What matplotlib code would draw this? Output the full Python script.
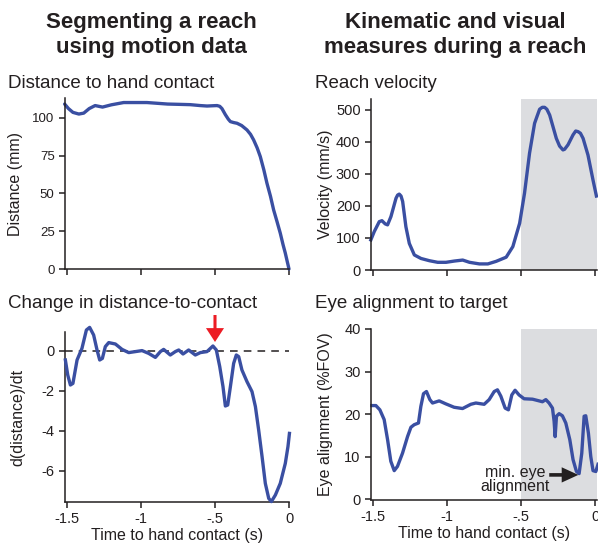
import matplotlib
matplotlib.use("Agg")
import matplotlib.pyplot as plt

plt.rcParams['font.family'] = ['Liberation Sans', 'DejaVu Sans']

# ---------------------------------------------------------
# Data
# ---------------------------------------------------------

# distance to hand contact (mm)
dist_t = [-1.516, -1.49, -1.46, -1.42, -1.387, -1.35, -1.31, -1.26, -1.2, -1.117, -1.04, -0.96,
          -0.89, -0.82, -0.74, -0.667, -0.6, -0.554, -0.51, -0.486, -0.468, -0.453, -0.43,
          -0.41, -0.396, -0.375, -0.351, -0.32, -0.284, -0.26, -0.239, -0.215, -0.194, -0.17,
          -0.149, -0.125, -0.104, -0.08, -0.059, -0.04, -0.025, -0.012, 0.0]
dist_v = [109, 106, 103.5, 102.4, 103, 106, 108, 107, 108.5, 110, 110, 110,
          109.5, 109, 108.8, 108.6, 108, 107.7, 107.9, 108, 107.5, 106, 102,
          99, 97.4, 96.8, 96.3, 94.8, 91.9, 89, 85.3, 80, 74.3, 65.5,
          56.7, 48, 39.1, 31, 23.7, 16, 10.5, 5, 0]

# change in distance-to-contact
deriv_t = [-1.511, -1.495, -1.477, -1.46, -1.432, -1.399, -1.369, -1.347, -1.32, -1.297, -1.279,
           -1.261, -1.241, -1.218, -1.173, -1.128, -1.083, -1.038, -0.993, -0.948, -0.903,
           -0.869, -0.847, -0.802, -0.768, -0.745, -0.716, -0.678, -0.633, -0.599, -0.554,
           -0.514, -0.491, -0.468, -0.446, -0.43, -0.414, -0.396, -0.374, -0.356, -0.34,
           -0.318, -0.284, -0.25, -0.227, -0.205, -0.182, -0.16, -0.137, -0.119, -0.092,
           -0.059, -0.025, -0.007, 0.003]
deriv_v = [-0.45, -1.2, -1.7, -1.62, -0.45, 0.13, 1.05, 1.18, 0.8, 0.05, -0.45,
           -0.37, 0.22, 0.42, 0.35, 0.08, -0.08, -0.03, 0.02, -0.12, -0.32,
           -0.03, 0.08, -0.2, -0.03, 0.05, -0.15, 0.05, -0.2, -0.08, -0.03,
           0.25, 0.05, -0.78, -1.78, -2.75, -2.7, -1.78, -0.62, -0.2, -0.28,
           -0.95, -1.53, -2.03, -2.78, -3.95, -5.28, -6.62, -7.37, -7.53, -7.2,
           -6.62, -5.62, -4.78, -4.12]

# reach velocity (mm/s)
vel_t = [-1.516, -1.493, -1.459, -1.441, -1.419, -1.403, -1.38, -1.346, -1.335, -1.324, -1.312,
         -1.301, -1.279, -1.256, -1.222, -1.177, -1.12, -1.064, -1.008, -0.951, -0.895, -0.849,
         -0.782, -0.725, -0.669, -0.601, -0.556, -0.51, -0.477, -0.443, -0.409, -0.393, -0.375,
         -0.357, -0.341, -0.326, -0.307, -0.262, -0.24, -0.217, -0.206, -0.183, -0.149, -0.131,
         -0.115, -0.099, -0.081, -0.048, -0.014, 0.009]
vel_v = [94, 120, 151, 154, 144, 141, 167, 224, 234, 237, 231,
         214, 135, 83, 47, 36, 29, 24, 24, 28, 31, 24,
         19, 19, 27, 40, 73, 146, 240, 365, 458, 479, 502,
         508, 508, 502, 484, 411, 387, 375, 377, 391, 422, 434,
         432, 427, 411, 359, 281, 231]

# eye alignment to target (%FOV)
eye_t = [-1.509, -1.482, -1.455, -1.426, -1.403, -1.381, -1.358, -1.336, -1.302, -1.268, -1.245,
         -1.223, -1.194, -1.178, -1.16, -1.14, -1.117, -1.099, -1.054, -1.009, -0.953,
         -0.896, -0.84, -0.806, -0.75, -0.716, -0.682, -0.66, -0.637, -0.608, -0.586,
         -0.563, -0.541, -0.514, -0.48, -0.423, -0.378, -0.356, -0.333, -0.311, -0.288,
         -0.277, -0.27, -0.261, -0.243, -0.221, -0.198, -0.171, -0.149, -0.126, -0.108,
         -0.09, -0.074, -0.063, -0.045, -0.029, -0.014, 0.005, 0.02]
eye_v = [22.0, 22.0, 21.0, 18.7, 14.0, 8.9, 6.7, 7.7, 10.8, 14.7, 16.9,
         17.5, 17.9, 21.8, 24.8, 25.3, 23.4, 22.6, 23.1, 22.4, 21.6,
         21.3, 22.3, 22.6, 22.3, 23.4, 25.3, 25.7, 24.2, 21.4, 21.0,
         24.5, 25.6, 24.5, 23.6, 23.5, 23.1, 22.9, 23.4, 22.6, 21.4,
         18.3, 14.7, 19.5, 20.1, 19.6, 17.9, 14.0, 9.3, 6.5, 6.0,
         10.8, 19.5, 19.6, 15.5, 10.0, 6.7, 6.5, 8.2]

time_ticks = [-1.5, -1, -0.5, 0]
time_labels = ['-1.5', '-1', '-.5', '0']

# ---------------------------------------------------------
# Figure
# ---------------------------------------------------------
blue = '#3a4fa2'
shade = '#dcdde0'
ink = '#231f20'
W, H = 598, 544

fig = plt.figure(figsize=(W / 100, H / 100), dpi=100)


def box(l, r, t, b):
    return [l / W, 1 - b / H, (r - l) / W, (b - t) / H]


def style(ax, labels=True, ysize=10.5):
    for s in ['top', 'right']:
        ax.spines[s].set_visible(False)
    for s in ['left', 'bottom']:
        ax.spines[s].set_linewidth(1.1)
        ax.spines[s].set_color(ink)
    ax.tick_params(direction='out', length=4.5, width=1.1, color=ink, labelcolor=ink, pad=3)
    ax.tick_params(axis='y', labelsize=ysize)
    ax.tick_params(axis='x', labelsize=10.5)
    ax.set_xticks(time_ticks)
    if labels:
        ax.set_xticklabels(time_labels)
        ax.set_xlabel('Time to hand contact (s)', fontsize=11.5, color=ink, labelpad=1)
    else:
        ax.set_xticklabels([])


# top-left: distance
ax1 = fig.add_axes(box(65, 289, 98, 269))
ax1.plot(dist_t, dist_v, color=blue, lw=2.4, clip_on=False, solid_capstyle='round')
ax1.set_xlim(-1.5135, 0)
ax1.set_ylim(0, 113)
ax1.set_yticks([0, 25, 50, 75, 100])
style(ax1, labels=False, ysize=9.5)
ax1.set_ylabel('Distance (mm)', fontsize=11.5, color=ink)
ax1.yaxis.set_label_coords(23 / W, (1 - 183.5 / H), transform=fig.transFigure)

# bottom-left: derivative
ax2 = fig.add_axes(box(65, 289, 332, 502))
ax2.axhline(0, color=ink, lw=1.1, ls=(0, (5, 4)), zorder=1)
ax2.plot(deriv_t, deriv_v, color=blue, lw=2.4, clip_on=False, zorder=3)
ax2.set_xlim(-1.5135, 0)
ax2.set_ylim(-7.55, 0.95)
ax2.set_yticks([-6, -4, -2, 0])
ax2.set_yticklabels(['-6', '-4', '-2', '0'])
style(ax2)
ax2.set_ylabel('d(distance)/dt', fontsize=11.5, color=ink)
ax2.yaxis.set_label_coords(25 / W, (1 - 417 / H), transform=fig.transFigure)
ax2.annotate('', xy=(-0.5, 0.45), xytext=(-0.5, 1.8), annotation_clip=False,
             arrowprops=dict(facecolor='#ec1c24', edgecolor='none', width=2.2,
                             headwidth=13, headlength=10, shrink=0))

# top-right: velocity
ax3 = fig.add_axes(box(371, 597, 99, 270))
ax3.axvspan(-0.5, 0.013, color=shade, lw=0, zorder=0)
ax3.plot(vel_t, vel_v, color=blue, lw=2.4, clip_on=False)
ax3.set_xlim(-1.515, 0.013)
ax3.set_ylim(0, 534)
ax3.set_yticks([0, 100, 200, 300, 400, 500])
style(ax3, labels=False)
ax3.set_ylabel('Velocity (mm/s)', fontsize=11.5, color=ink)
ax3.yaxis.set_label_coords(333 / W, (1 - 184.5 / H), transform=fig.transFigure)

# bottom-right: eye alignment
ax4 = fig.add_axes(box(371, 597, 329, 500))
ax4.axvspan(-0.5, 0.013, color=shade, lw=0, zorder=0)
ax4.plot(eye_t, eye_v, color=blue, lw=2.4, clip_on=False)
ax4.set_xlim(-1.515, 0.013)
ax4.set_ylim(-0.2, 40)
ax4.set_yticks([0, 10, 20, 30, 40])
style(ax4)
ax4.set_ylabel('Eye alignment (%FOV)', fontsize=11.5, color=ink)
ax4.yaxis.set_label_coords(333 / W, (1 - 414.5 / H), transform=fig.transFigure)
ax4.text(-0.543, 4.6, 'min. eye\nalignment', ha='center', va='center', fontsize=11.5,
         color=ink, linespacing=0.95, multialignment='center')
ax4.annotate('', xy=(-0.113, 5.7), xytext=(-0.31, 5.7),
             arrowprops=dict(facecolor=ink, edgecolor='none', width=2.6,
                             headwidth=11, headlength=12, shrink=0))

# panel titles
for x, y, s in [(8, 83, 'Distance to hand contact'), (8, 303, 'Change in distance-to-contact'),
                (315, 83, 'Reach velocity'), (315, 303, 'Eye alignment to target')]:
    fig.text(x / W, 1 - y / H, s, ha='left', va='center', fontsize=13.5, color=ink)

# column headings
fig.text(151 / W, 1 - 35 / H, 'Segmenting a reach\nusing motion data', ha='center', va='center',
         fontsize=16, fontweight='bold', color=ink, linespacing=1.3)
fig.text(455 / W, 1 - 35 / H, 'Kinematic and visual\nmeasures during a reach', ha='center',
         va='center', fontsize=16, fontweight='bold', color=ink, linespacing=1.3)

fig.savefig('out.png', dpi=100)
